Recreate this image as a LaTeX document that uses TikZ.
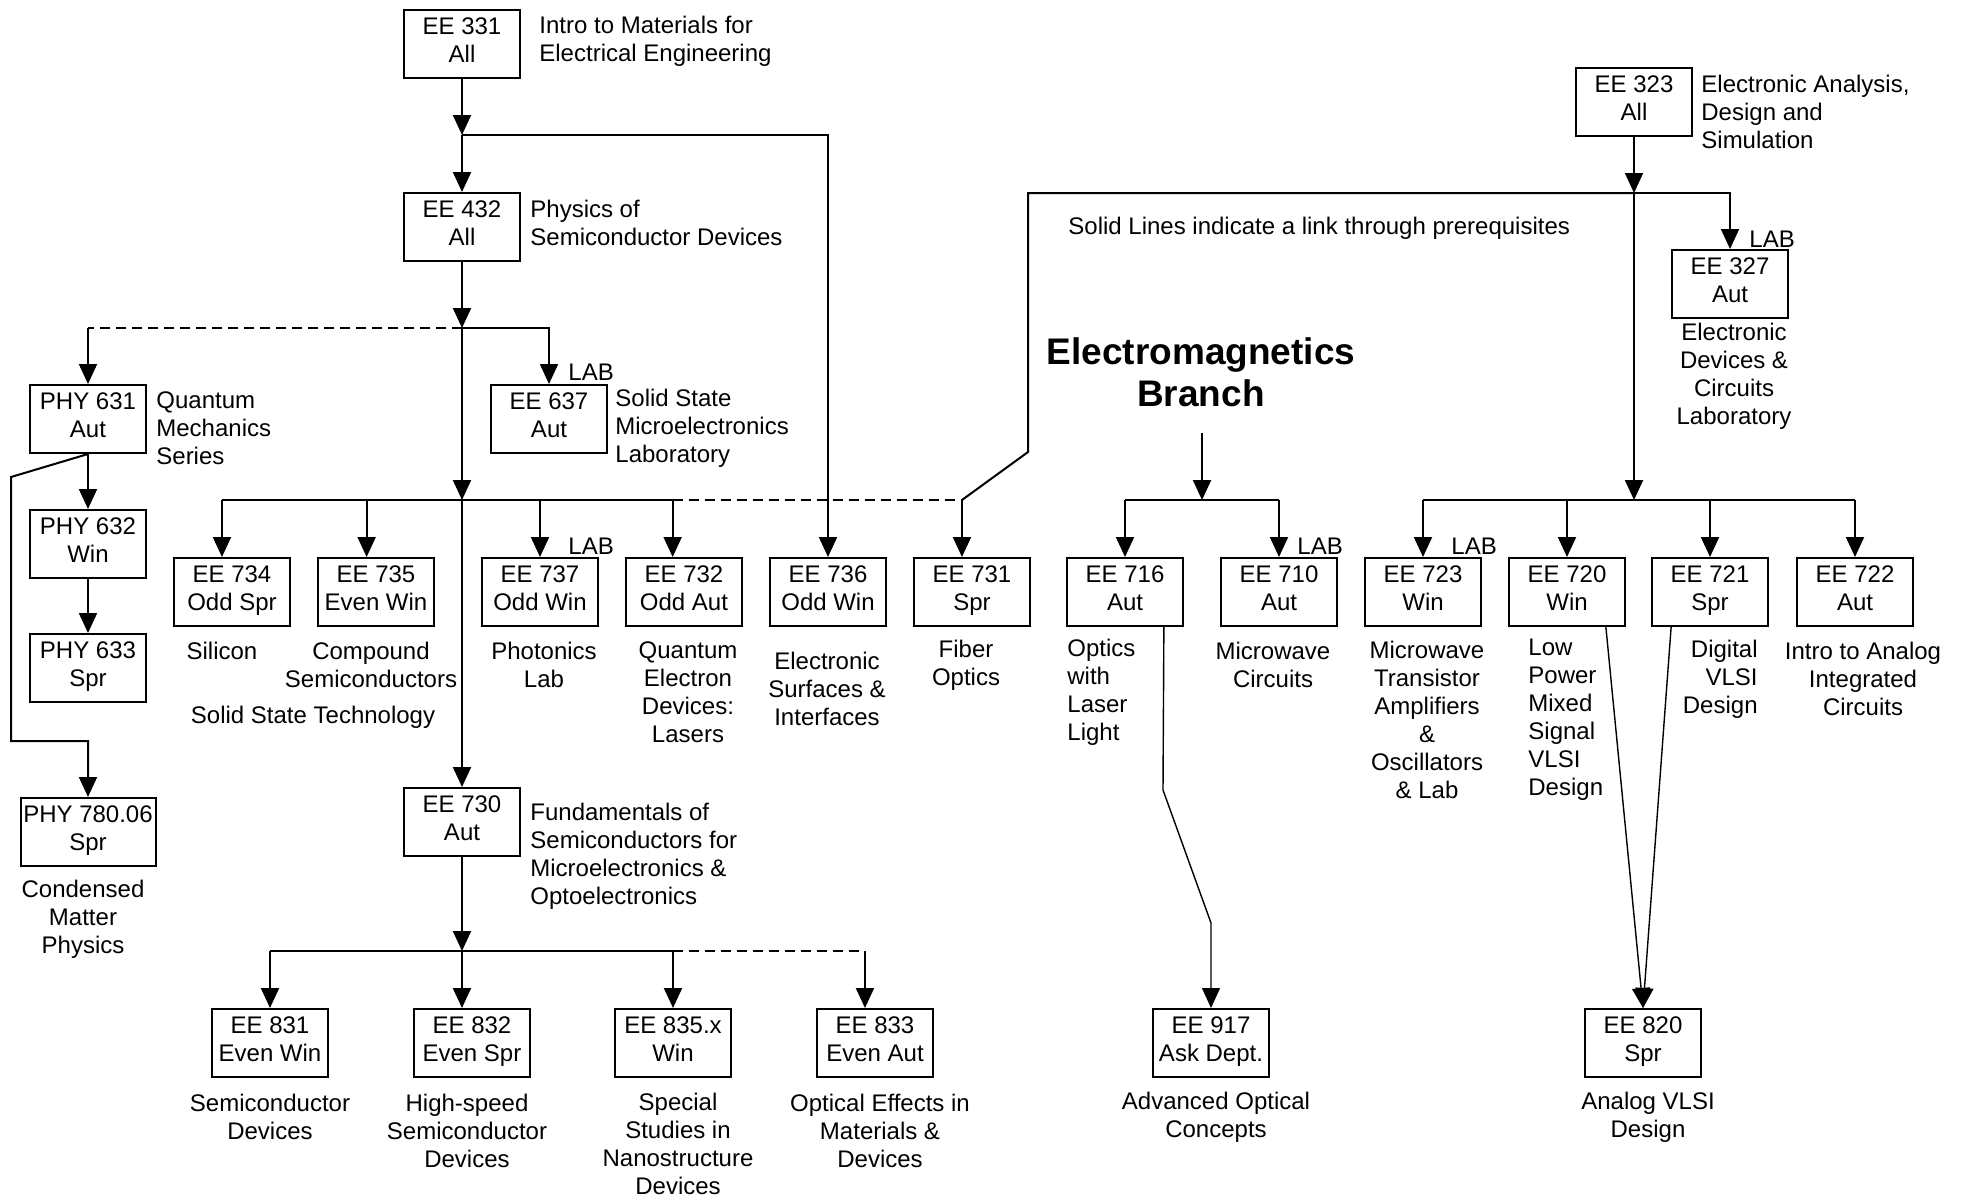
\documentclass[tikz,border=0pt]{standalone}
\usepackage{fontspec}
\setmainfont{Liberation Sans}
\usetikzlibrary{arrows.meta}
\tikzset{
  course/.style={draw, line width=1pt, minimum width=58pt, minimum height=34pt,
                 inner sep=1pt, align=center,
                 execute at begin node=\strut, execute at end node=\strut},
  desc/.style={inner sep=0pt, align=center},
  descl/.style={inner sep=0pt, align=left, anchor=west},
  link/.style={-{Triangle[length=10pt,width=9pt]}, line width=1pt},
  thinlink/.style={-{Triangle[length=10pt,width=9pt]}, line width=0.7pt},
  plainlink/.style={line width=1pt},
  dashlink/.style={line width=1pt, dash pattern=on 5pt off 3pt},
}

\begin{document}
\begin{tikzpicture}[x=0.5pt, y=-0.5pt,
    every node/.style={font=\fontsize{12}{14}\selectfont}]
  \useasboundingbox (0,0) rectangle (1965,1196);

  % course boxes
  \node[course] (e331) at (462,44) {EE 331\\All};
  \node[course] (e432) at (462,227) {EE 432\\All};
  \node[course] (p631) at (88,419) {PHY 631\\Aut};
  \node[course] (e637) at (549,419) {EE 637\\Aut};
  \node[course] (p632) at (88,544) {PHY 632\\Win};
  \node[course] (p633) at (88,668) {PHY 633\\Spr};
  \node[course, minimum width=67.5pt] (p780) at (88,832) {PHY 780.06\\Spr};
  \node[course] (e323) at (1634,102) {EE 323\\All};
  \node[course] (e327) at (1730,284) {EE 327\\Aut};
  \node[course] (e730) at (462,822) {EE 730\\Aut};
  \foreach \nm/\x/\lbl in {e734/232/{EE 734\\Odd Spr}, e735/376/{EE 735\\Even Win},
      e737/540/{EE 737\\Odd Win}, e732/684/{EE 732\\Odd Aut}, e736/828/{EE 736\\Odd Win},
      e731/972/{EE 731\\Spr}, e716/1125/{EE 716\\Aut}, e710/1279/{EE 710\\Aut},
      e723/1423/{EE 723\\Win}, e720/1567/{EE 720\\Win}, e721/1710/{EE 721\\Spr},
      e722/1855/{EE 722\\Aut}}
    \node[course] (\nm) at (\x,592) {\lbl};
  \foreach \nm/\x/\lbl in {e831/270/{EE 831\\Even Win}, e832/472/{EE 832\\Even Spr},
      e835/673/{EE 835.x\\Win}, e833/875/{EE 833\\Even Aut},
      e917/1211/{EE 917\\Ask Dept.}, e820/1643/{EE 820\\Spr}}
    \node[course] (\nm) at (\x,1043) {\lbl};

  % descriptions
  \node[descl] (d331) at (539,41) {Intro to Materials for\\Electrical Engineering};
  \node[descl] (d432) at (530,223) {Physics of\\Semiconductor Devices};
  \node[descl] (d631) at (156,428) {Quantum\\Mechanics\\Series};
  \node[descl] (d637) at (615,428) {Solid State\\Microelectronics\\Laboratory};
  \node[descl] (note) at (1068,228) {Solid Lines indicate a link through prerequisites};
  \node[desc, font=\fontsize{18.5}{21}\selectfont\bfseries] (title) at (1201,372)
    {Electromagnetics\\Branch};
  \node[descl] (d323) at (1701,112) {Electronic Analysis,\\Design and\\Simulation};
  \node[desc] (d327) at (1734,376) {Electronic\\Devices \&\\Circuits\\Laboratory};
  \node[descl] (lab637) at (568,372) {LAB};
  \node[descl] (lab327) at (1749,239) {LAB};
  \node[descl] (lab737) at (568,546) {LAB};
  \node[descl] (lab710) at (1297,546) {LAB};
  \node[descl] (lab723) at (1451,546) {LAB};

  \node[desc] (d734) at (222,651) {Silicon};
  \node[desc] (d735) at (371,665) {Compound\\Semiconductors};
  \node[desc] (dsst) at (313,717) {Solid State Technology};
  \node[desc] (d737) at (544,665) {Photonics\\Lab};
  \node[desc] (d732) at (688,692) {Quantum\\Electron\\Devices:\\Lasers};
  \node[desc] (d736) at (827,689) {Electronic\\Surfaces \&\\Interfaces};
  \node[desc] (d731) at (966,665) {Fiber\\Optics};
  \node[descl] (d716) at (1067,692) {Optics\\with\\Laser\\Light};
  \node[desc] (d710) at (1273,665) {Microwave\\Circuits};
  \node[desc] (d723) at (1427,720)
    {Microwave\\Transistor\\Amplifiers\\\&\\Oscillators\\\& Lab};
  \node[descl] (d720) at (1528,720) {Low\\Power\\Mixed\\Signal\\VLSI\\Design};
  \node[desc, align=right, anchor=east] (d721) at (1758,679) {Digital\\VLSI\\Design};
  \node[desc] (d722) at (1863,679) {Intro to Analog\\Integrated\\Circuits};

  \node[descl] (d730) at (530,856)
    {Fundamentals of\\Semiconductors for\\Microelectronics \&\\Optoelectronics};
  \node[desc] (d780) at (83,919) {Condensed\\Matter\\Physics};
  \node[desc] (d831) at (270,1117) {Semiconductor\\Devices};
  \node[desc] (d832) at (467,1131) {High-speed\\Semiconductor\\Devices};
  \node[desc] (d835) at (678,1144) {Special\\Studies in\\Nanostructure\\Devices};
  \node[desc] (d833) at (880,1131) {Optical Effects in\\Materials \&\\Devices};
  \node[desc] (d917) at (1216,1117) {Advanced Optical\\Concepts};
  \node[desc] (d820) at (1648,1117) {Analog VLSI\\Design};

  % junctions and bends
  \coordinate (j1) at (462,135);
  \coordinate (j2) at (462,328);
  \coordinate (j3) at (462,500);
  \coordinate (j4) at (462,951);
  \coordinate (j5) at (1634,193);
  \coordinate (j6) at (1634,500);
  \coordinate (emtop) at (1202,433);
  \coordinate (j7) at (1202,500);
  \coordinate (c1) at (1028,193);
  \coordinate (c2) at (1028,452);
  \coordinate (c3) at (e731.106 |- j3);
  \coordinate (k1) at (11,477);
  \coordinate (k2) at (11,741);
  \coordinate (m1) at (1163,790);
  \coordinate (m2) at (1211,923);

  % solid state branch
  \draw[link] (e331) -- (j1);
  \draw[link] (j1) -- (e432);
  \draw[link] (j1) -| (e736.north);
  \draw[link] (e432) -- (j2);
  \draw[dashlink] (j2) -- (j2 -| p631);
  \draw[link] (j2 -| p631) -- (p631);
  \draw[link] (j2) -| (e637.north);
  \draw[link] (j2) -- (j3);
  \draw[link] (j3) -- (e730);
  \draw[plainlink] (e734.106 |- j3) -- (e732.108 |- j3);
  \draw[dashlink] (e732.108 |- j3) -- (c3);
  \foreach \nm/\a in {e734/106, e735/105, e737/90, e732/108, e731/106}
    \draw[link] (\nm.\a |- j3) -- (\nm.\a);

  \draw[link] (p631) -- (p632);
  \draw[link] (p632) -- (p633);
  \draw[link] (p631.south) -- (k1) -- (k2) -| (p780.north);

  \draw[link] (e730) -- (j4);
  \draw[plainlink] (e831.north |- j4) -- (e835.north |- j4);
  \draw[dashlink] (e835.north |- j4) -- (e833.106 |- j4);
  \foreach \nm/\a in {e831/90, e832/106, e835/90, e833/106}
    \draw[link] (\nm.\a |- j4) -- (\nm.\a);

  % electronics branch
  \draw[link] (e323) -- (j5);
  \draw[link] (j5) -| (e327.north);
  \draw[plainlink] (j5) -- (c1) -- (c2) -- (c3);
  \draw[link] (j5) -- (j6);
  \draw[plainlink] (e723.north |- j6) -- (e722.north |- j6);
  \foreach \nm in {e723, e720, e721, e722}
    \draw[link] (\nm.north |- j6) -- (\nm.north);
  \draw[thinlink] (e720.-42) -- (e820.north);
  \draw[thinlink] (e721.-138) -- (e820.north);

  % electromagnetics branch
  \draw[link] (emtop) -- (j7);
  \draw[plainlink] (e716.north |- j7) -- (e710.north |- j7);
  \foreach \nm in {e716, e710}
    \draw[link] (\nm.north |- j7) -- (\nm.north);
  \draw[thinlink] (e716.-42) -- (m1) -- (m2) -- (e917.north);
\end{tikzpicture}
\end{document}
